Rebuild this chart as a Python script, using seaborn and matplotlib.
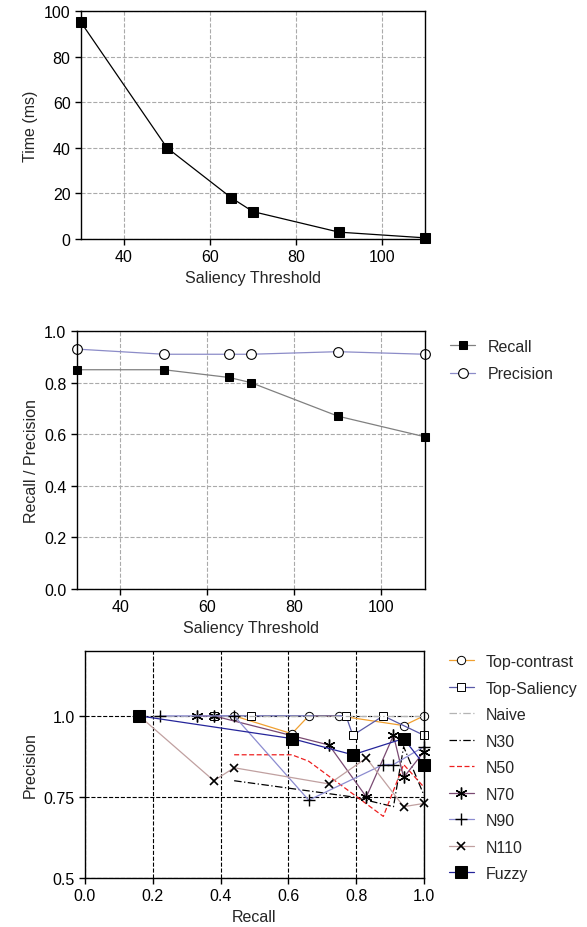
import matplotlib
matplotlib.use("Agg")
import matplotlib.pyplot as plt
import seaborn as sns
import pandas as pd

sns.set_style("ticks")
plt.rcParams["font.family"] = ["Liberation Sans", "DejaVu Sans"]
FS = 11.5
plt.rcParams["font.size"] = FS

# Panel 1: processing time vs saliency threshold
thresholds = [30, 50, 65, 70, 90, 110]
time_ms = [95, 40, 18, 12, 3, 0.5]

# Panel 2: recall / precision vs saliency threshold
recall_vals = [0.85, 0.85, 0.82, 0.80, 0.67, 0.59]
precision_vals = [0.93, 0.91, 0.91, 0.91, 0.92, 0.91]

# Panel 3: precision-recall curves per method
top_contrast_r = [0.44, 0.61, 0.66, 0.75, 0.94, 1.0]
top_contrast_p = [1.0, 0.945, 1.0, 1.0, 0.97, 1.0]
top_saliency_r = [0.38, 0.49, 0.77, 0.79, 0.88, 1.0]
top_saliency_p = [1.0, 1.0, 1.0, 0.94, 1.0, 0.94]
naive_r = [0.16, 0.4, 0.6, 0.8, 1.0]
naive_p = [1.0, 1.0, 1.0, 1.0, 1.0]
n30_r = [0.44, 0.79, 0.91, 0.94, 1.0]
n30_p = [0.80, 0.75, 0.72, 0.905, 0.755]
n50_r = [0.44, 0.61, 0.66, 0.88, 0.94, 1.0]
n50_p = [0.88, 0.88, 0.86, 0.69, 0.85, 0.78]
n70_r = [0.33, 0.38, 0.72, 0.83, 0.91, 0.94, 1.0]
n70_p = [1.0, 1.0, 0.91, 0.75, 0.94, 0.81, 0.89]
n90_r = [0.22, 0.44, 0.66, 0.88, 0.91, 1.0]
n90_p = [1.0, 1.0, 0.74, 0.85, 0.85, 0.905]
n110_r = [0.16, 0.38, 0.44, 0.72, 0.83, 0.94, 1.0]
n110_p = [1.0, 0.80, 0.84, 0.79, 0.87, 0.72, 0.73]
fuzzy_r = [0.16, 0.61, 0.79, 0.94, 1.0]
fuzzy_p = [1.0, 0.93, 0.88, 0.93, 0.85]

fig = plt.figure(figsize=(5.87, 9.28), dpi=100)
ax1 = fig.add_axes([0.138, 0.7414, 0.586, 0.2457])
ax2 = fig.add_axes([0.131, 0.3642, 0.593, 0.278])
ax3 = fig.add_axes([0.1448, 0.0528, 0.5775, 0.2446])

grid_kw = dict(color="#aaaaaa", linestyle="--", linewidth=0.8)


def style_axes(ax):
    for s in ax.spines.values():
        s.set_color("black")
        s.set_linewidth(1.0)
    ax.tick_params(direction="out", length=4, width=1, colors="black", labelsize=FS)


# ---- Panel 1
sns.lineplot(x=thresholds, y=time_ms, ax=ax1, color="black", linewidth=0.9,
             marker="s", markersize=7.5, markerfacecolor="black", markeredgecolor="black",
             sort=False, estimator=None)
ax1.set_xlim(30, 110)
ax1.set_ylim(0, 100)
ax1.set_xticks([40, 60, 80, 100])
ax1.set_yticks([0, 20, 40, 60, 80, 100])
ax1.grid(True, **grid_kw)
ax1.set_axisbelow(True)
ax1.set_xlabel("Saliency Threshold", fontsize=FS)
ax1.set_ylabel("Time (ms)", fontsize=FS)
style_axes(ax1)
for m in ax1.lines:
    m.set_clip_on(False)

# ---- Panel 2
sns.lineplot(x=thresholds, y=recall_vals, ax=ax2, color="#808080", linewidth=0.9,
             marker="s", markersize=6, markerfacecolor="black", markeredgecolor="black",
             sort=False, estimator=None, label="Recall")
sns.lineplot(x=thresholds, y=precision_vals, ax=ax2, color="#8c8cc8", linewidth=0.9,
             marker="o", markersize=7, markerfacecolor="white", markeredgecolor="black",
             markeredgewidth=0.8, sort=False, estimator=None, label="Precision")
ax2.set_xlim(30, 110)
ax2.set_ylim(0, 1.0)
ax2.set_xticks([40, 60, 80, 100])
ax2.set_yticks([0.0, 0.2, 0.4, 0.6, 0.8, 1.0])
ax2.set_yticklabels(["0.0", "0.2", "0.4", "0.6", "0.8", "1.0"])
ax2.grid(True, **grid_kw)
ax2.set_axisbelow(True)
ax2.set_xlabel("Saliency Threshold", fontsize=FS)
ax2.set_ylabel("Recall / Precision", fontsize=FS)
style_axes(ax2)
for m in ax2.lines:
    m.set_clip_on(False)
ax2.legend(loc="upper left", bbox_to_anchor=(1.03, 1.025), frameon=False,
           handlelength=1.6, handletextpad=0.75, labelspacing=0.78, fontsize=FS)

# ---- Panel 3
series = [
    ("Top-contrast", top_contrast_r, top_contrast_p,
     dict(color="#f0a030", marker="o", markersize=6, markerfacecolor="white",
          markeredgecolor="black", markeredgewidth=0.7, linestyle="-")),
    ("Top-Saliency", top_saliency_r, top_saliency_p,
     dict(color="#5a5aa8", marker="s", markersize=6, markerfacecolor="white",
          markeredgecolor="black", markeredgewidth=0.7, linestyle="-")),
    ("Naive", naive_r, naive_p,
     dict(color="#b4b4b4", marker=None, linestyle=(0, (6, 2, 1, 2)))),
    ("N30", n30_r, n30_p,
     dict(color="black", marker=None, linestyle=(0, (6, 2, 1, 2)))),
    ("N50", n50_r, n50_p,
     dict(color="#ee2020", marker=None, linestyle=(0, (4, 2)))),
    ("N70", n70_r, n70_p,
     dict(color="#7a4a72", marker=(6, 2, 0), markersize=8.5, markeredgecolor="black",
          markeredgewidth=1.0, linestyle="-")),
    ("N90", n90_r, n90_p,
     dict(color="#8c8cd0", marker="+", markersize=9, markeredgecolor="black",
          markeredgewidth=1.0, linestyle="-")),
    ("N110", n110_r, n110_p,
     dict(color="#c0a0a0", marker="x", markersize=6, markeredgecolor="black",
          markeredgewidth=1.2, linestyle="-")),
    ("Fuzzy", fuzzy_r, fuzzy_p,
     dict(color="#25259a", marker="s", markersize=8, markerfacecolor="black",
          markeredgecolor="black", linestyle="-")),
]
for name, r, p, kw in series:
    df = pd.DataFrame({"Recall": r, "Precision": p})
    sns.lineplot(data=df, x="Recall", y="Precision", ax=ax3, linewidth=0.9,
                 sort=False, estimator=None, label=name, **kw)
for m in ax3.lines:
    m.set_clip_on(False)

ax3.set_xlim(0.0, 1.0)
ax3.set_ylim(0.5, 1.2)
ax3.set_xticks([0.0, 0.2, 0.4, 0.6, 0.8, 1.0])
ax3.set_xticklabels(["0.0", "0.2", "0.4", "0.6", "0.8", "1.0"])
ax3.set_yticks([0.5, 0.75, 1.0])
ax3.set_yticklabels(["0.5", "0.75", "1.0"])
ax3.grid(True, color="black", linestyle="--", linewidth=0.8)
ax3.set_axisbelow(True)
ax3.set_xlabel("Recall", fontsize=FS)
ax3.set_ylabel("Precision", fontsize=FS)
style_axes(ax3)
ax3.legend(loc="upper left", bbox_to_anchor=(1.03, 1.05), frameon=False,
           handlelength=1.6, handletextpad=0.75, labelspacing=0.72, fontsize=FS)

fig.savefig("out.png", dpi=100)
